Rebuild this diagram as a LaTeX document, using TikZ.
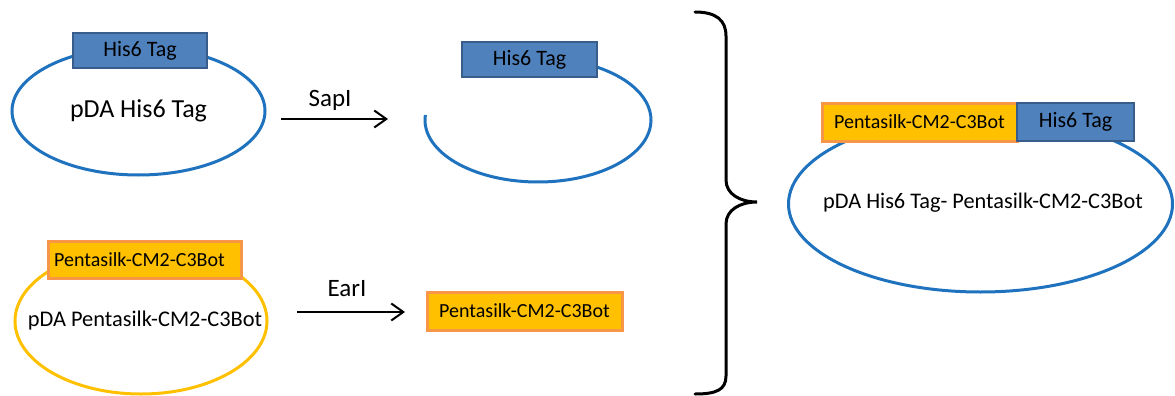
\documentclass[tikz,border=0pt]{standalone}
\usepackage{fontspec}
\setmainfont{Carlito}
\usetikzlibrary{shapes.geometric,arrows.meta}
\definecolor{ringblue}{RGB}{30,114,190}
\definecolor{ringorange}{RGB}{255,192,0}
\definecolor{hisfill}{RGB}{79,129,189}
\definecolor{hisedge}{RGB}{56,93,138}
\definecolor{silkfill}{RGB}{255,192,0}
\definecolor{silkedge}{RGB}{247,150,70}
\tikzset{
  plasmidblue/.style={ellipse, draw=ringblue, line width=3pt, inner sep=0pt},
  plasmidorange/.style={ellipse, draw=ringorange, line width=3pt, inner sep=0pt},
  plasmidtext/.style={inner sep=0pt},
  hisbox/.style={rectangle, fill=hisfill, draw=hisedge, line width=2pt, inner sep=0pt,
    font=\fontsize{22}{24}\selectfont},
  silkbox/.style={rectangle, fill=silkfill, draw=silkedge, line width=3pt, inner sep=0pt,
    font=\fontsize{20}{22}\selectfont},
  enzyme/.style={font=\fontsize{25}{27}\selectfont, inner sep=0pt},
  cutarrow/.style={line width=2pt, -{Straight Barb[length=12pt,width=17pt,line width=2pt]}},
  bracestyle/.style={line width=3pt, line cap=round}
}
\begin{document}
\begin{tikzpicture}[x=1pt,y=-1pt]
\useasboundingbox (0,0) rectangle (1175,396);

% top-left plasmid
\node[plasmidblue, minimum width=253pt, minimum height=128pt] (p1) at (138.5,111) {};
\node[plasmidtext, font=\fontsize{26}{28}\selectfont] (p1t) at (p1.center) {pDA His6 Tag};
\node[hisbox, minimum width=134pt, minimum height=35pt] (h1) at (140,50.5) {His6 Tag};

% SapI arrow
\coordinate (sa) at (281,119);
\coordinate (sb) at (388,119);
\draw[cutarrow] (sa) -- (sb);
\node[enzyme] (sapi) at (330,100) {SapI};

% opened plasmid
\draw[ringblue, line width=3pt] (538,120) ++(184.6:113 and 62) arc[start angle=184.6, end angle=-64, x radius=113, y radius=62];
\node[hisbox, minimum width=135pt, minimum height=35pt] (h2) at (529.5,59.5) {His6 Tag};

% bottom-left plasmid
\node[plasmidorange, minimum width=252pt, minimum height=146pt] (p2) at (141,321) {};
\node[plasmidtext, font=\fontsize{22.4}{24}\selectfont] (p2t) at (145,321) {pDA Pentasilk-CM2-C3Bot};
\node[silkbox, minimum width=193pt, minimum height=37pt] (s1) at (144.5,259.5) {\hspace*{-10pt}Pentasilk-CM2-C3Bot};

% EarI arrow
\coordinate (ea) at (297,312);
\coordinate (eb) at (405,312);
\draw[cutarrow] (ea) -- (eb);
\node[enzyme] (eari) at (347,289) {EarI};

% excised fragment
\node[silkbox, minimum width=195pt, minimum height=38pt] (s2) at (524.5,311) {Pentasilk-CM2-C3Bot};

% brace
\coordinate (bt) at (695,12);
\coordinate (bm) at (757,202);
\coordinate (bb) at (695,394);
\draw[bracestyle] (bt) .. controls (716,12) and (726,20) .. (726,36)
  -- (726,180) .. controls (726,194) and (740,202) .. (bm)
  .. controls (740,202) and (726,210) .. (726,224)
  -- (726,376) .. controls (726,390) and (716,394) .. (bb);

% product plasmid
\node[plasmidblue, minimum width=384pt, minimum height=176pt] (p3) at (980.5,204) {};
\node[plasmidtext, font=\fontsize{22.3}{24}\selectfont] (p3t) at (983,203) {pDA His6 Tag- Pentasilk-CM2-C3Bot};
\node[silkbox, minimum width=195pt, minimum height=38pt] (s3) at (919.5,122) {Pentasilk-CM2-C3Bot};
\node[hisbox, minimum width=117pt, minimum height=38pt] (h3) at (1075.5,122) {His6 Tag};
\end{tikzpicture}
\end{document}
